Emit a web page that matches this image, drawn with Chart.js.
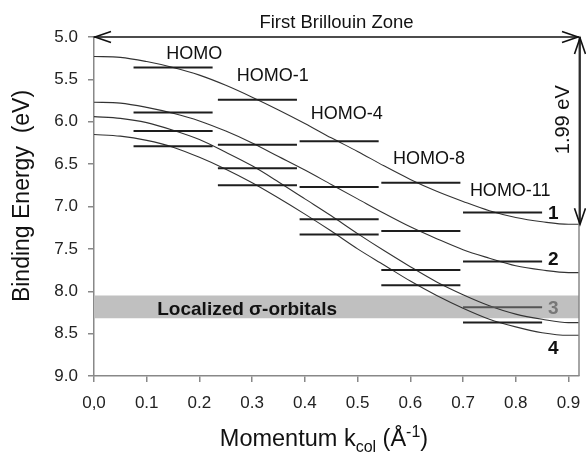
<!DOCTYPE html>
<html>
<head>
<meta charset="utf-8">
<script src="https://cdn.jsdelivr.net/npm/chart.js@4.4.1/dist/chart.umd.min.js"></script>
<style>
  html, body { margin: 0; padding: 0; background: #fff; }
  #wrap { width: 586px; height: 453px; }
</style>
</head>
<body>
<div id="wrap"><canvas id="myChart"></canvas></div>
<script>
// band dispersion curves at these momenta (1/Å)
const kGrid = [0, 0.05, 0.1, 0.15, 0.2, 0.25, 0.3, 0.35, 0.4, 0.45, 0.5, 0.55, 0.6, 0.65, 0.7, 0.75, 0.8, 0.85, 0.9, 0.92];
const band1 = [5.23, 5.24, 5.29, 5.36, 5.45, 5.57, 5.71, 5.86, 6.02, 6.19, 6.35, 6.52, 6.68, 6.82, 6.94, 7.05, 7.13, 7.18, 7.21, 7.21];
const band2 = [5.77, 5.78, 5.83, 5.90, 5.99, 6.11, 6.25, 6.41, 6.57, 6.74, 6.91, 7.08, 7.24, 7.38, 7.51, 7.61, 7.70, 7.75, 7.78, 7.78];
const band3 = [5.94, 5.96, 6.01, 6.10, 6.21, 6.36, 6.52, 6.71, 6.91, 7.11, 7.32, 7.52, 7.71, 7.89, 8.04, 8.17, 8.27, 8.33, 8.37, 8.37];
const band4 = [6.15, 6.17, 6.22, 6.30, 6.42, 6.56, 6.72, 6.90, 7.09, 7.29, 7.50, 7.69, 7.88, 8.05, 8.20, 8.33, 8.42, 8.49, 8.52, 8.52];

// orbital energy levels, one column per momentum window
const colStart = [0.075, 0.235, 0.39, 0.545, 0.70];
const colEnd = [0.225, 0.385, 0.54, 0.695, 0.85];
const levels = [
  [5.36, 5.89, 6.11, 6.29],
  [5.74, 6.27, 6.55, 6.75],
  [6.23, 6.77, 7.15, 7.33],
  [6.72, 7.29, 7.75, 7.93],
  [7.07, 7.65, 8.19, 8.37]
];

const homoNames = ['HOMO', 'HOMO-1', 'HOMO-4', 'HOMO-8', 'HOMO-11'];
const homoX = [0.137, 0.271, 0.411, 0.567, 0.713];
const homoY = [5.256, 5.516, 5.968, 6.495, 6.881];

const bandNames = ['1', '2', '3', '4'];
const bandNameY = [7.07, 7.62, 8.19, 8.67];

const sigmaBand = [8.05, 8.32];
const zoneEnd = 0.92;
const bandWidthTop = 5.0;
const bandWidthBottom = 7.21;

const yTicks = [5.0, 5.5, 6.0, 6.5, 7.0, 7.5, 8.0, 8.5, 9.0];
const xTicks = [0, 0.1, 0.2, 0.3, 0.4, 0.5, 0.6, 0.7, 0.8, 0.9];
const xTickLabels = ['0,0', '0.1', '0.2', '0.3', '0.4', '0.5', '0.6', '0.7', '0.8', '0.9'];

const FONT = "'Liberation Sans', Arial, Helvetica, sans-serif";

const toPts = (ys) => ys.map((y, i) => ({ x: kGrid[i], y: y }));

const datasets = [];

// grey band of localized sigma orbitals
datasets.push({
  data: [{ x: 0, y: sigmaBand[0] }, { x: zoneEnd, y: sigmaBand[0] }],
  borderWidth: 0, pointRadius: 0, fill: '+1', backgroundColor: '#c0c0c0', order: 3
});
datasets.push({
  data: [{ x: 0, y: sigmaBand[1] }, { x: zoneEnd, y: sigmaBand[1] }],
  borderWidth: 0, pointRadius: 0, fill: false, order: 3
});

[band1, band2, band3, band4].forEach(b => {
  datasets.push({
    data: toPts(b), borderColor: '#333', borderWidth: 1.1,
    pointRadius: 0, cubicInterpolationMode: 'monotone', fill: false, order: 2
  });
});

levels.forEach((col, c) => {
  col.forEach((e, j) => {
    datasets.push({
      data: [{ x: colStart[c], y: e }, { x: colEnd[c], y: e }],
      borderColor: (c === 4 && j === 2) ? '#555' : '#1e1e1e',
      borderWidth: 2, pointRadius: 0, fill: false, order: 1
    });
  });
});

function chevron(ctx, x, y, dx, dy) {
  // open arrow head, tip at (x, y), opening towards (dx, dy)
  const len = 16, half = 5.5;
  const px = -dy, py = dx;
  ctx.beginPath();
  ctx.moveTo(x + dx * len + px * half, y + dy * len + py * half);
  ctx.lineTo(x, y);
  ctx.lineTo(x + dx * len - px * half, y + dy * len - py * half);
  ctx.stroke();
}

const annotations = {
  id: 'annotations',
  afterDatasetsDraw(chart) {
    const ctx = chart.ctx;
    const xs = chart.scales.x, ys = chart.scales.y;
    const area = chart.chartArea;
    ctx.save();

    // right frame line
    ctx.strokeStyle = '#888';
    ctx.lineWidth = 1.5;
    ctx.beginPath();
    ctx.moveTo(area.right, area.top);
    ctx.lineTo(area.right, area.bottom);
    ctx.stroke();

    // First Brillouin Zone arrow
    ctx.strokeStyle = '#111';
    ctx.lineWidth = 1.6;
    const yTop = ys.getPixelForValue(bandWidthTop);
    const xL = xs.getPixelForValue(0), xR = xs.getPixelForValue(zoneEnd);
    ctx.beginPath();
    ctx.moveTo(xL, yTop);
    ctx.lineTo(xR, yTop);
    ctx.stroke();
    chevron(ctx, xL + 1, yTop, 1, 0);
    chevron(ctx, xR - 1, yTop, -1, 0);

    // band width arrow
    const yBot = ys.getPixelForValue(bandWidthBottom);
    const xA = xR + 1;
    ctx.beginPath();
    ctx.moveTo(xA, yTop);
    ctx.lineTo(xA, yBot);
    ctx.stroke();
    chevron(ctx, xA, yTop + 1, 0, 1);
    chevron(ctx, xA, yBot, 0, -1);

    ctx.fillStyle = '#111';
    ctx.font = '18.5px ' + FONT;
    ctx.textAlign = 'center';
    ctx.textBaseline = 'alphabetic';
    ctx.fillText('First Brillouin Zone', xs.getPixelForValue(0.46), yTop - 9);

    ctx.save();
    ctx.translate(xs.getPixelForValue(0.89), ys.getPixelForValue(5.976));
    ctx.rotate(-Math.PI / 2);
    ctx.font = '20px ' + FONT;
    ctx.textBaseline = 'middle';
    ctx.fillText('1.99 eV', 0, 0);
    ctx.restore();

    // orbital names
    ctx.font = '18px ' + FONT;
    ctx.textAlign = 'left';
    ctx.textBaseline = 'alphabetic';
    homoNames.forEach((n, i) => {
      ctx.fillText(n, xs.getPixelForValue(homoX[i]), ys.getPixelForValue(homoY[i]));
    });

    // band numbers
    ctx.font = 'bold 19px ' + FONT;
    ctx.textBaseline = 'middle';
    bandNames.forEach((n, i) => {
      ctx.fillStyle = i === 2 ? '#777' : '#111';
      ctx.fillText(n, xs.getPixelForValue(0.861), ys.getPixelForValue(bandNameY[i]) + 1);
    });

    ctx.fillStyle = '#111';
    ctx.font = 'bold 19px ' + FONT;
    ctx.fillText('Localized \u03c3-orbitals', xs.getPixelForValue(0.12), ys.getPixelForValue(8.22));

    // y axis title
    ctx.save();
    ctx.translate(29, 196);
    ctx.rotate(-Math.PI / 2);
    ctx.font = '23px ' + FONT;
    ctx.textAlign = 'center';
    ctx.textBaseline = 'alphabetic';
    ctx.fillText('Binding Energy  (eV)', 0, 0);
    ctx.restore();

    // x axis title with sub/superscript
    const big = '23.5px ' + FONT, small = '16px ' + FONT;
    const parts = [
      ['Momentum k', big, 0], ['col', small, 6], [' (\u00c5', big, 0], ['-1', small, -9], [')', big, 0]
    ];
    let total = 0;
    parts.forEach(p => { ctx.font = p[1]; total += ctx.measureText(p[0]).width; });
    let x = 324 - total / 2;
    const base = 446;
    ctx.textAlign = 'left';
    ctx.textBaseline = 'alphabetic';
    parts.forEach(p => {
      ctx.font = p[1];
      ctx.fillText(p[0], x, base + p[2]);
      x += ctx.measureText(p[0]).width;
    });

    ctx.restore();
  }
};

new Chart(document.getElementById('myChart'), {
  type: 'line',
  data: { datasets: datasets },
  options: {
    responsive: true,
    maintainAspectRatio: false,
    animation: false,
    layout: { padding: { top: 37, right: 7, left: 0, bottom: 0 } },
    plugins: { legend: { display: false }, tooltip: { enabled: false } },
    scales: {
      x: {
        type: 'linear', min: 0, max: zoneEnd,
        afterFit: s => { s.height = 77; s.paddingLeft = 0; s.paddingRight = 0; },
        afterBuildTicks: s => { s.ticks = xTicks.map(v => ({ value: v })); },
        ticks: {
          callback: (v, i) => xTickLabels[i],
          autoSkip: false, maxRotation: 0, padding: 11,
          font: { family: FONT, size: 17 }, color: '#222'
        },
        grid: { drawOnChartArea: false, drawTicks: true, tickLength: 6, color: '#888', lineWidth: 1.5 },
        border: { color: '#888', width: 1.5 }
      },
      y: {
        type: 'linear', min: 5, max: 9, reverse: true,
        afterFit: s => { s.width = 94; s.paddingTop = 0; s.paddingBottom = 0; },
        afterBuildTicks: s => { s.ticks = yTicks.map(v => ({ value: v })); },
        ticks: {
          callback: v => v.toFixed(1),
          padding: 10,
          font: { family: FONT, size: 17 }, color: '#222'
        },
        grid: { drawOnChartArea: false, drawTicks: true, tickLength: 6, color: '#888', lineWidth: 1.5 },
        border: { color: '#888', width: 1.5 }
      }
    }
  },
  plugins: [annotations]
});
</script>
</body>
</html>
